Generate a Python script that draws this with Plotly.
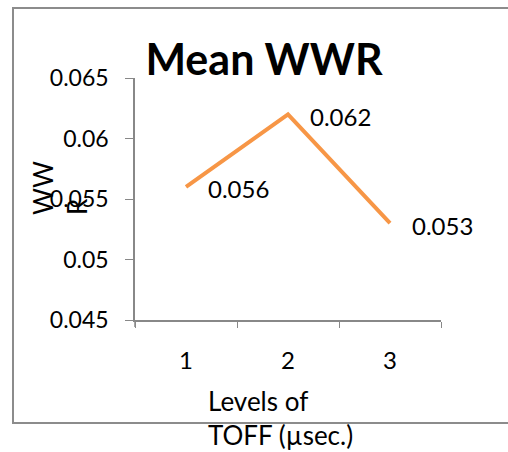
import plotly.graph_objects as go

levels = ["1", "2", "3"]
mean_wwr = [0.056, 0.062, 0.053]
label_text = ["0.056", "0.062", "0.053"]
y_ticks = [0.045, 0.05, 0.055, 0.06, 0.065]
y_tick_text = ["0.045", "0.05", "0.055", "0.06", "0.065"]

W, H = 508, 452
FONT = "Lato"

fig = go.Figure()
fig.add_trace(go.Scatter(
    x=levels, y=mean_wwr, mode="lines",
    line=dict(color="#F79646", width=4),
    showlegend=False, hoverinfo="skip"))

for i, (yv, t) in enumerate(zip(mean_wwr, label_text)):
    fig.add_annotation(x=i, y=yv, text=t, showarrow=False,
                       xanchor="left", yanchor="middle", xshift=20, yshift=-2,
                       font=dict(family=FONT, size=24, color="black"))

fig.update_layout(
    width=W, height=H,
    margin=dict(l=0, r=0, t=0, b=0, autoexpand=False),
    paper_bgcolor="white", plot_bgcolor="white",
    font=dict(family=FONT, size=24, color="black"),
    title=dict(text="<b>Mean WWR</b>", x=264 / W, xanchor="center",
               y=1 - 60 / H, yanchor="middle", automargin=False,
               font=dict(family=FONT, size=43, color="black")),
    xaxis=dict(domain=[135 / W, 441 / W], type="category",
               range=[-0.5, 2.5], automargin=False,
               tickson="boundaries", ticks="outside", ticklen=6,
               tickcolor="#888888", showline=True, linecolor="#888888",
               linewidth=1.5, showgrid=False, zeroline=False,
               ticklabelstandoff=18, tickfont=dict(size=24)),
    yaxis=dict(domain=[1 - 320 / H, 1 - 78 / H], range=[0.045, 0.065],
               automargin=False,
               tickvals=y_ticks, ticktext=y_tick_text,
               ticks="outside", ticklen=8, tickcolor="#888888",
               showline=True, linecolor="#888888", linewidth=1.5,
               showgrid=False, zeroline=False, ticklabelstandoff=12,
               tickfont=dict(size=23)),
)

# outer chart frame (right side open / clipped)
fig.add_shape(type="rect", xref="paper", yref="paper",
              x0=13 / W, x1=1.02, y0=1 - 423 / H, y1=1 - 8 / H,
              line=dict(color="#8c8c8c", width=2))

# small extension of the y-axis line below the x-axis
fig.add_shape(type="line", xref="paper", yref="paper",
              x0=135 / W, x1=135 / W, y0=1 - 320 / H, y1=1 - 327 / H,
              line=dict(color="#888888", width=1.5))

# y-axis title (wrapped)
fig.add_annotation(xref="paper", yref="paper", x=60 / W, y=1 - 217 / H,
                   text="WW<br>R", textangle=-90, showarrow=False,
                   align="left", xanchor="center", yanchor="bottom",
                   font=dict(family=FONT, size=26, color="black"))

# x-axis title (wrapped)
fig.add_annotation(xref="paper", yref="paper", x=206 / W, y=1 - 418 / H,
                   text="Levels of<br>TOFF (µsec.)", showarrow=False,
                   align="left", xanchor="left", yanchor="middle",
                   font=dict(family=FONT, size=26, color="black"))

fig.write_html("out.html")
